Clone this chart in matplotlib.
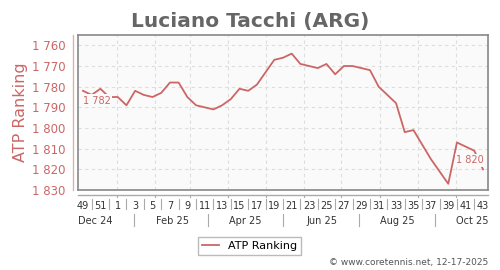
import datetime as dt
import matplotlib
matplotlib.use("Agg")
import matplotlib.pyplot as plt
from matplotlib.transforms import blended_transform_factory
from matplotlib.lines import Line2D

# weekly ranking, ISO week 49/2024 .. week 43/2025
first_week = dt.date(2024, 12, 5)
rankings = [1782, 1784, 1781, 1785, 1785, 1789, 1782, 1784, 1785, 1783,
            1778, 1778, 1785, 1789, 1790, 1791, 1789, 1786, 1781, 1782,
            1779, 1773, 1767, 1766, 1764, 1769, 1770, 1771, 1769, 1774,
            1770, 1770, 1771, 1772, 1780, 1784, 1788, 1802, 1801, 1808,
            1815, 1821, 1827, 1807, 1809, 1811, 1820]
week_nums = [49, 50, 51, 52] + list(range(1, 44))
month_labels = ["Dec 24", "Feb 25", "Apr 25", "Jun 25", "Aug 25", "Oct 25"]
month_dates = [dt.date(2024, 12, 15), dt.date(2025, 2, 15), dt.date(2025, 4, 15),
               dt.date(2025, 6, 15), dt.date(2025, 8, 15), dt.date(2025, 10, 14)]
yticks = [1760, 1770, 1780, 1790, 1800, 1810, 1820, 1830]

dates = [first_week + dt.timedelta(weeks=i) for i in range(len(rankings))]


def fmt(v):
    return f"{v // 1000} {v % 1000:03d}"


red = "#cc6666"
grey = "#888888"

fig = plt.figure(figsize=(5, 2.7), dpi=100)
ax = fig.add_axes([0.156, 0.2963, 0.82, 0.574])
ax.set_facecolor("#fafafa")

ax.plot(dates, rankings, color=red, lw=1.3, label="ATP Ranking", zorder=3)

ax.set_xlim(dates[0] - dt.timedelta(days=4), dates[-1] + dt.timedelta(days=4))
ax.set_ylim(1830, 1755)
ax.set_yticks(yticks)
ax.set_yticklabels([fmt(v) for v in yticks])
ax.tick_params(axis="y", length=0, pad=9, labelsize=8.5, labelcolor=red)

# week labels on odd weeks
odd = [(d, w) for d, w in zip(dates, week_nums) if w % 2 == 1]
ax.set_xticks([d for d, _ in odd])
ax.set_xticklabels([str(w) for _, w in odd])
ax.tick_params(axis="x", length=0, pad=8, labelsize=7, labelcolor="#333333")

# grid: months vertical, ranks horizontal
month_starts = [dt.date(2025, m, 1) for m in range(1, 11)]
for m in month_starts:
    ax.axvline(m, color="#dddddd", lw=0.8, ls=(0, (3, 3)), zorder=1)
for v in yticks:
    ax.axhline(v, color="#dddddd", lw=0.8, ls=(0, (3, 3)), zorder=1)

for s in ax.spines.values():
    s.set_color(grey)
    s.set_linewidth(1.2)

# offset axis lines
ax.add_line(Line2D([-0.012, -0.012], [0, 1], transform=ax.transAxes,
                   color="#e0b0b0", lw=1, clip_on=False))
ax.add_line(Line2D([0, 1], [-0.03, -0.03], transform=ax.transAxes,
                   color="#aaaaaa", lw=1, clip_on=False))

bt = blended_transform_factory(ax.transData, fig.transFigure)
for m in month_starts:
    ax.add_line(Line2D([m, m], [1 - 195 / 270, 1 - 197 / 270], transform=bt,
                       color="#aaaaaa", lw=0.8, clip_on=False))
# separators between week labels
for d, w in zip(dates, week_nums):
    if w % 2 == 0:
        ax.add_line(Line2D([d, d], [1 - 199 / 270, 1 - 209 / 270], transform=bt,
                           color="#aaaaaa", lw=0.8, clip_on=False))
# month row
for d, lab in zip(month_dates, month_labels):
    ax.text(d, 1 - 221 / 270, lab, transform=bt, ha="center", va="center",
            fontsize=7, color="#333333")
for a, b in zip(month_dates[:-1], month_dates[1:]):
    mid = a + (b - a) / 2
    ax.add_line(Line2D([mid, mid], [1 - 214 / 270, 1 - 226 / 270], transform=bt,
                       color="#aaaaaa", lw=0.8, clip_on=False))

# first / last values
box = dict(boxstyle="square,pad=0.15", fc="#fafafa", ec="none")
ax.annotate(fmt(rankings[0]), (dates[0], rankings[0]),
            xytext=(14, -10), textcoords="offset pixels", ha="center", va="center",
            fontsize=7, color=red, bbox=box, zorder=4)
ax.annotate(fmt(rankings[-1]), (dates[-1], rankings[-1]),
            xytext=(-13, 9), textcoords="offset pixels", ha="center", va="center",
            fontsize=7, color=red, bbox=box, zorder=4)

ax.set_ylabel("ATP Ranking", fontsize=11.5, color=red, labelpad=3)
fig.suptitle("Luciano Tacchi (ARG)", x=0.5, y=0.955, fontsize=14.5,
             fontweight="bold", color="#666666")

fig.legend(loc="center", bbox_to_anchor=(0.499, 0.089), fontsize=8,
           frameon=True, fancybox=False, edgecolor="#aaaaaa",
           handlelength=1.6, borderpad=0.35)
fig.text(0.976, 0.026, "\u00a9 www.coretennis.net, 12-17-2025", ha="right",
         va="center", fontsize=6.5, color="#555555")

fig.savefig("out.png", dpi=100)
